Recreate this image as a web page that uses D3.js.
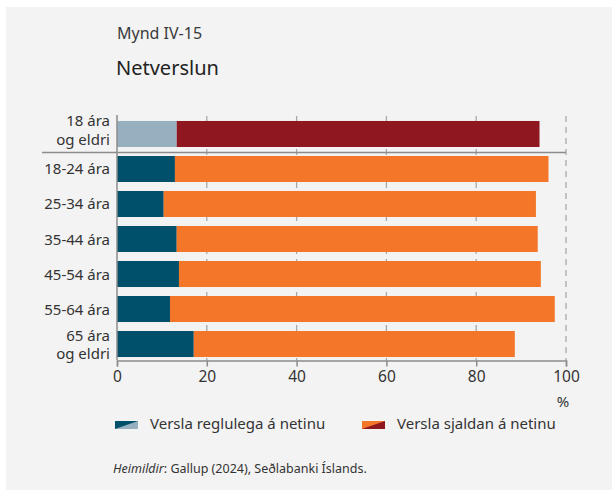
<!DOCTYPE html>
<html>
<head>
<meta charset="utf-8">
<script src="https://cdn.jsdelivr.net/npm/d3@7"></script>
<style>
    html, body { margin: 0; padding: 0; background: #fff; }
    svg { display: block; font-family: "Noto Sans", sans-serif; }
</style>
</head>
<body>
<script>
    // data (%)
    const groups = [["18 ára", "og eldri"], ["18-24 ára"], ["25-34 ára"], ["35-44 ára"],
                    ["45-54 ára"], ["55-64 ára"], ["65 ára", "og eldri"]];
    const regularly = [13.3, 12.9, 10.4, 13.3, 13.8, 11.8, 17.1];
    const seldom = [80.8, 83.2, 82.9, 80.4, 80.6, 85.7, 71.5];
    const seriesNames = ["Versla reglulega á netinu", "Versla sjaldan á netinu"];
    const xTicks = [0, 20, 40, 60, 80, 100];

    const width = 614, height = 490;
    const colors = {
        total: ["#96b0bf", "#8f171f"],
        age: ["#004f6b", "#f47628"]
    };

    const svg = d3.select("body").append("svg")
        .attr("width", width)
        .attr("height", height);

    svg.append("rect")
        .attr("x", 6).attr("y", 7)
        .attr("width", width - 8).attr("height", height - 7)
        .attr("fill", "#f3f3f3");

    svg.append("text").attr("x", 117).attr("y", 39)
        .attr("font-size", 16).attr("fill", "#3a3a3a")
        .text("Mynd IV-15");
    svg.append("text").attr("x", 116).attr("y", 75)
        .attr("font-size", 20).attr("fill", "#222")
        .text("Netverslun");

    const rows = groups.map((g, i) => ({ key: i, label: g, regularly: regularly[i], seldom: seldom[i] }));

    const x = d3.scaleLinear().domain([0, 100]).range([117, 566]);
    const y = d3.scaleBand()
        .domain(rows.map(d => d.key))
        .range([116.5, 361.5])
        .paddingInner(0.257)
        .paddingOuter(0.128);

    // dashed grid
    svg.append("g")
        .selectAll("line")
        .data(xTicks.slice(1))
        .join("line")
        .attr("x1", d => x(d)).attr("x2", d => x(d))
        .attr("y1", 116).attr("y2", 360)
        .attr("stroke", "#a8a8a8")
        .attr("stroke-width", 1.3)
        .attr("stroke-dasharray", "6,5");

    const stack = d3.stack().keys(["regularly", "seldom"]);
    const layers = stack(rows);

    svg.append("g")
        .selectAll("g")
        .data(layers)
        .join("g")
        .selectAll("rect")
        .data((layer, li) => layer.map(d => ({ d, li })))
        .join("rect")
        .attr("x", o => x(o.d[0]))
        .attr("width", o => x(o.d[1]) - x(o.d[0]))
        .attr("y", o => y(o.d.data.key))
        .attr("height", y.bandwidth())
        .attr("fill", o => (o.d.data.key === 0 ? colors.total : colors.age)[o.li]);

    // separator between total and age groups
    svg.append("line")
        .attr("x1", 42).attr("x2", x(100))
        .attr("y1", 152.5).attr("y2", 152.5)
        .attr("stroke", "#8c8c8c").attr("stroke-width", 1.5);

    // y axis line
    svg.append("line")
        .attr("x1", x(0)).attr("x2", x(0))
        .attr("y1", 115).attr("y2", 360)
        .attr("stroke", "#8c8c8c").attr("stroke-width", 1.5);

    // x axis
    const xAxis = svg.append("g")
        .attr("transform", "translate(0,360.5)")
        .call(d3.axisBottom(x).tickValues(xTicks).tickSize(6).tickPadding(4));
    xAxis.select(".domain").attr("stroke", "#8c8c8c").attr("stroke-width", 1.5);
    xAxis.selectAll(".tick line").attr("stroke", "#8c8c8c").attr("stroke-width", 1.5);
    xAxis.selectAll(".tick text")
        .attr("font-size", 15.5).attr("fill", "#333")
        .attr("font-family", "Noto Sans, sans-serif");

    svg.append("text").attr("x", 563).attr("y", 407)
        .attr("text-anchor", "middle")
        .attr("font-size", 15).attr("fill", "#333")
        .text("%");

    // category labels
    const labels = svg.append("g")
        .selectAll("text")
        .data(rows)
        .join("text")
        .attr("text-anchor", "end")
        .attr("font-size", 15)
        .attr("fill", "#333");
    labels.each(function (d) {
        const mid = y(d.key) + y.bandwidth() / 2;
        const lines = d.label;
        const shift = d.key === 0 ? -4 : 0;
        d3.select(this).selectAll("tspan")
            .data(lines)
            .join("tspan")
            .attr("x", 110)
            .attr("y", (t, j) => lines.length === 1 ? mid + 5.5 : mid + shift - 3.5 + j * 18.5)
            .text(t => t);
    });

    // legend
    const legendX = [115, 362];
    const legendColors = [[colors.age[0], colors.total[0]], [colors.age[1], colors.total[1]]];
    const legend = svg.append("g")
        .selectAll("g")
        .data(seriesNames)
        .join("g")
        .attr("transform", (d, i) => `translate(${legendX[i]},421)`);
    legend.append("path")
        .attr("d", "M0,0H23V8H0Z")
        .attr("fill", (d, i) => legendColors[i][0]);
    legend.append("path")
        .attr("d", "M0,8L23,0V8Z")
        .attr("fill", (d, i) => legendColors[i][1]);
    legend.append("text")
        .attr("x", 35).attr("y", 8)
        .attr("font-size", 15).attr("fill", "#333")
        .text(d => d);

    const src = svg.append("text").attr("x", 113).attr("y", 473)
        .attr("font-size", 12.5).attr("fill", "#333");
    src.append("tspan").attr("font-style", "italic").text("Heimildir");
    src.append("tspan").text(": Gallup (2024), Seðlabanki Íslands.");
</script>
</body>
</html>
